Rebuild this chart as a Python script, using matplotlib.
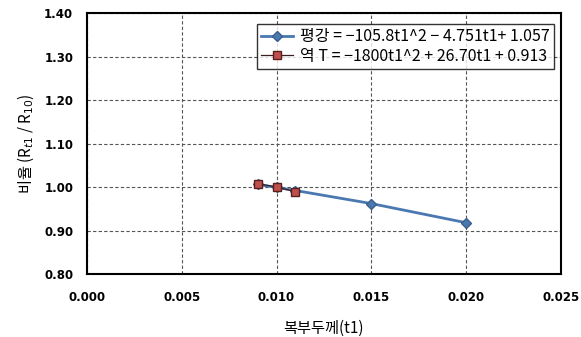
import numpy as np
import matplotlib.pyplot as plt

plt.rcParams['font.family'] = ['Noto Sans CJK KR', 'DejaVu Sans']

# data
t_avg = [0.009, 0.010, 0.011, 0.015, 0.020]
r_avg = [1.006, 0.999, 0.992, 0.962, 0.918]
t_rev = [0.009, 0.010, 0.011]
r_rev = [1.008, 1.000, 0.989]

lab_avg = "평강 = \u2212105.8t1^2 \u2212 4.751t1+ 1.057"
lab_rev = "역 T = \u22121800t1^2 + 26.70t1 + 0.913"

xticks = [0.000, 0.005, 0.010, 0.015, 0.020, 0.025]
yticks = [0.80, 0.90, 1.00, 1.10, 1.20, 1.30, 1.40]

fig = plt.figure(figsize=(5.81, 3.37), dpi=100)
ax = fig.add_axes([0.150, 0.187, 0.815, 0.774])

ax.plot(t_avg, r_avg, color='#4a78b0', lw=2.0, marker='D', ms=5,
        mfc='#4a78b0', mec='#3a5f8c', label=lab_avg, zorder=3)
ax.plot(t_rev, r_rev, color='#3a2020', lw=0.9, marker='s', ms=6,
        mfc='#c0504d', mec='#5a1f1f', label=lab_rev, zorder=4)

ax.set_xlim(0, 0.025)
ax.set_ylim(0.8, 1.4)
ax.set_xticks(xticks)
ax.set_yticks(yticks)
ax.set_xticklabels([f"{v:.3f}" for v in xticks], fontsize=8.5, fontweight='bold',
                   family='DejaVu Sans')
ax.set_yticklabels([f"{v:.2f}" for v in yticks], fontsize=8.5, fontweight='bold',
                   family='DejaVu Sans')
ax.tick_params(axis='x', length=0, pad=12)
ax.tick_params(axis='y', length=0, pad=10)
ax.grid(True, color='#555555', ls=(0, (3, 2)), lw=0.8)
for s in ax.spines.values():
    s.set_linewidth(1.5)
    s.set_color('black')

ax.set_xlabel("복부두께(t1)", fontsize=11, labelpad=12)
ax.set_ylabel("비율 (R$_{t1}$ / R$_{10}$)", fontsize=11, labelpad=6)

leg = ax.legend(loc='upper right', bbox_to_anchor=(0.995, 0.975), fontsize=11.5,
                frameon=True, fancybox=False, handlelength=2.0,
                borderpad=0.25, labelspacing=0.15, borderaxespad=0.3,
                handletextpad=0.4)
leg.get_frame().set_edgecolor('black')
leg.get_frame().set_linewidth(1.0)

fig.savefig("out.png", dpi=100)
